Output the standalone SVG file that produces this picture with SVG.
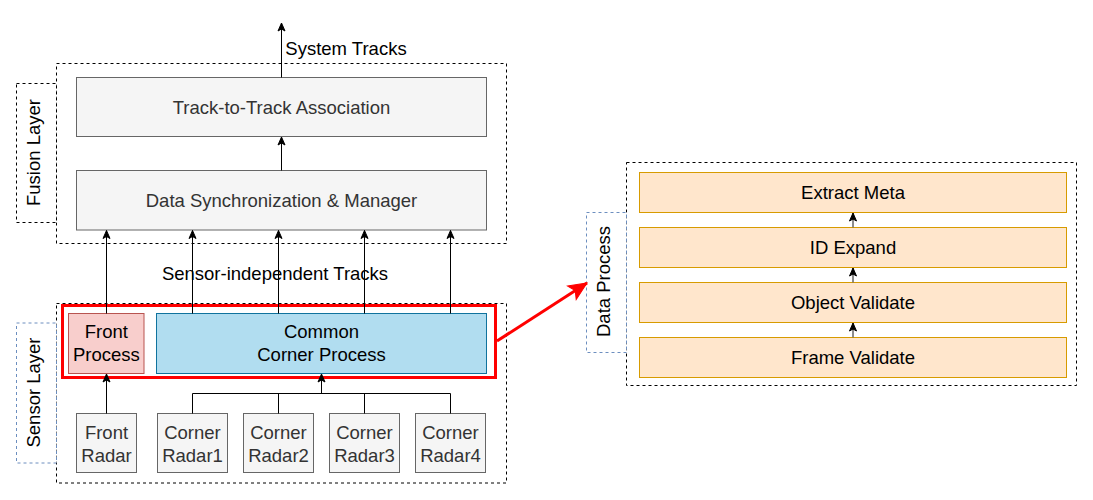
<svg xmlns="http://www.w3.org/2000/svg" width="1093" height="500" viewBox="0 0 1093 500">
<style>
text{font-family:"Liberation Sans",Arial,Helvetica,sans-serif;font-size:18.5px;text-anchor:middle}
.dash{fill:none;stroke:#000;stroke-width:1;stroke-dasharray:3,3}
.bdash{fill:#fff;stroke:#6c8ebf;stroke-width:1;stroke-dasharray:3,3}
.ldash{fill:#fff;stroke:#000;stroke-width:1;stroke-dasharray:3,3}
.gray{fill:#f5f5f5;stroke:#666;stroke-width:1}
.gt{fill:#333}
.org{fill:#ffe6cc;stroke:#d79b00;stroke-width:1}
.ln{fill:none;stroke:#000;stroke-width:1}
.lng{fill:none;stroke:#666;stroke-width:1.5}
</style>
<defs>
<marker id="ah" markerUnits="userSpaceOnUse" markerWidth="10" markerHeight="10" viewBox="0 0 10 10" refX="9" refY="5" orient="auto">
<path d="M1,1.5 L9,5 L1,8.5 L3,5 z" fill="#000" stroke="#000" stroke-width="1"/>
</marker>
<marker id="rah" markerUnits="userSpaceOnUse" markerWidth="22" markerHeight="22" viewBox="0 0 22 22" refX="20" refY="11" orient="auto">
<path d="M2,3 L20,11 L2,19 L6,11 z" fill="#ff0000" stroke="#ff0000" stroke-width="1"/>
</marker>
</defs>

<g id="fusion-layer">
<rect class="dash" x="56.5" y="63.5" width="450" height="180"/>
<rect class="ldash" x="16.5" y="83.5" width="40" height="139"/>
<text transform="translate(40,152.5) rotate(-90)">Fusion Layer</text>
</g>
<g id="sensor-layer">
<rect class="dash" x="56.5" y="303.5" width="450" height="179.5"/>
<rect class="bdash" x="16.5" y="323" width="40" height="140"/>
<text transform="translate(40,392.5) rotate(-90)">Sensor Layer</text>
</g>

<g id="t2t">
<rect class="gray" x="76.5" y="77.5" width="410" height="59"/>
<text class="gt" x="281.5" y="114">Track-to-Track Association</text>
</g>
<g id="dsm">
<rect class="gray" x="76.5" y="170.5" width="410" height="59.5"/>
<text class="gt" x="281.5" y="206.7">Data Synchronization &amp; Manager</text>
</g>

<g id="front-process">
<rect x="68.5" y="313.5" width="75.5" height="60" fill="#f8cecc" stroke="#b85450" stroke-width="1"/>
<text x="106.3" y="338.3">Front</text>
<text x="106.3" y="361">Process</text>
</g>
<g id="common-corner">
<rect x="156.5" y="313.5" width="330" height="60" fill="#b1ddf0" stroke="#10739e" stroke-width="1"/>
<text x="321.5" y="338.3">Common</text>
<text x="321.5" y="361">Corner Process</text>
</g>

<g id="front-radar">
<rect class="gray" x="76.5" y="413.5" width="60" height="59"/>
<text class="gt" x="106.5" y="439.3">Front</text>
<text class="gt" x="106.5" y="462">Radar</text>
</g>
<g id="corner-radar1">
<rect class="gray" x="157.5" y="413.5" width="70" height="59"/>
<text class="gt" x="192.5" y="439.3">Corner</text>
<text class="gt" x="192.5" y="462">Radar1</text>
</g>
<g id="corner-radar2">
<rect class="gray" x="243.5" y="413.5" width="70" height="59"/>
<text class="gt" x="278.5" y="439.3">Corner</text>
<text class="gt" x="278.5" y="462">Radar2</text>
</g>
<g id="corner-radar3">
<rect class="gray" x="329.5" y="413.5" width="70" height="59"/>
<text class="gt" x="364.5" y="439.3">Corner</text>
<text class="gt" x="364.5" y="462">Radar3</text>
</g>
<g id="corner-radar4">
<rect class="gray" x="415.5" y="413.5" width="70" height="59"/>
<text class="gt" x="450.5" y="439.3">Corner</text>
<text class="gt" x="450.5" y="462">Radar4</text>
</g>

<g id="highlight">
<rect x="62.5" y="305.5" width="433" height="72" fill="none" stroke="#ff0000" stroke-width="3"/>
</g>

<g id="data-process">
<rect class="dash" x="626.5" y="162.5" width="450" height="223"/>
<rect class="bdash" x="586.5" y="212.5" width="40" height="140"/>
<text transform="translate(610,281.5) rotate(-90)">Data Process</text>
</g>
<g id="extract-meta">
<rect class="org" x="639.5" y="172.5" width="427" height="40"/>
<text x="853" y="199">Extract Meta</text>
</g>
<g id="id-expand">
<rect class="org" x="639.5" y="227.5" width="427" height="40"/>
<text x="853" y="254">ID Expand</text>
</g>
<g id="object-validate">
<rect class="org" x="639.5" y="282.5" width="427" height="40"/>
<text x="853" y="309">Object Validate</text>
</g>
<g id="frame-validate">
<rect class="org" x="639.5" y="337.5" width="427" height="40"/>
<text x="853" y="364">Frame Validate</text>
</g>

<g id="connectors">
<line class="ln" x1="281.5" y1="77.5" x2="281.5" y2="23" marker-end="url(#ah)"/>
<line class="ln" x1="281.5" y1="170.5" x2="281.5" y2="137" marker-end="url(#ah)"/>
<line class="ln" x1="106.5" y1="313.5" x2="106.5" y2="230.5" marker-end="url(#ah)"/>
<line class="ln" x1="192.5" y1="313.5" x2="192.5" y2="230.5" marker-end="url(#ah)"/>
<line class="ln" x1="278.5" y1="313.5" x2="278.5" y2="230.5" marker-end="url(#ah)"/>
<line class="ln" x1="364.5" y1="313.5" x2="364.5" y2="230.5" marker-end="url(#ah)"/>
<line class="ln" x1="450.5" y1="313.5" x2="450.5" y2="230.5" marker-end="url(#ah)"/>
<line class="ln" x1="106.5" y1="413.5" x2="106.5" y2="374" marker-end="url(#ah)"/>
<path class="ln" d="M192.5,413.5 V393.5 H450.5 V413.5 M278.5,413.5 V393.5 M364.5,413.5 V393.5"/>
<line class="ln" x1="321.5" y1="393.5" x2="321.5" y2="374" marker-end="url(#ah)"/>
<line class="lng" x1="853" y1="227.5" x2="853" y2="213" marker-end="url(#ah)"/>
<line class="lng" x1="853" y1="282.5" x2="853" y2="268" marker-end="url(#ah)"/>
<line class="lng" x1="853" y1="337.5" x2="853" y2="323" marker-end="url(#ah)"/>
<line x1="497" y1="341" x2="587" y2="283" stroke="#ff0000" stroke-width="3" marker-end="url(#rah)"/>
<text x="346" y="55" style="text-anchor:middle">System Tracks</text>
<text x="275" y="280">Sensor-independent Tracks</text>
</g>
</svg>
